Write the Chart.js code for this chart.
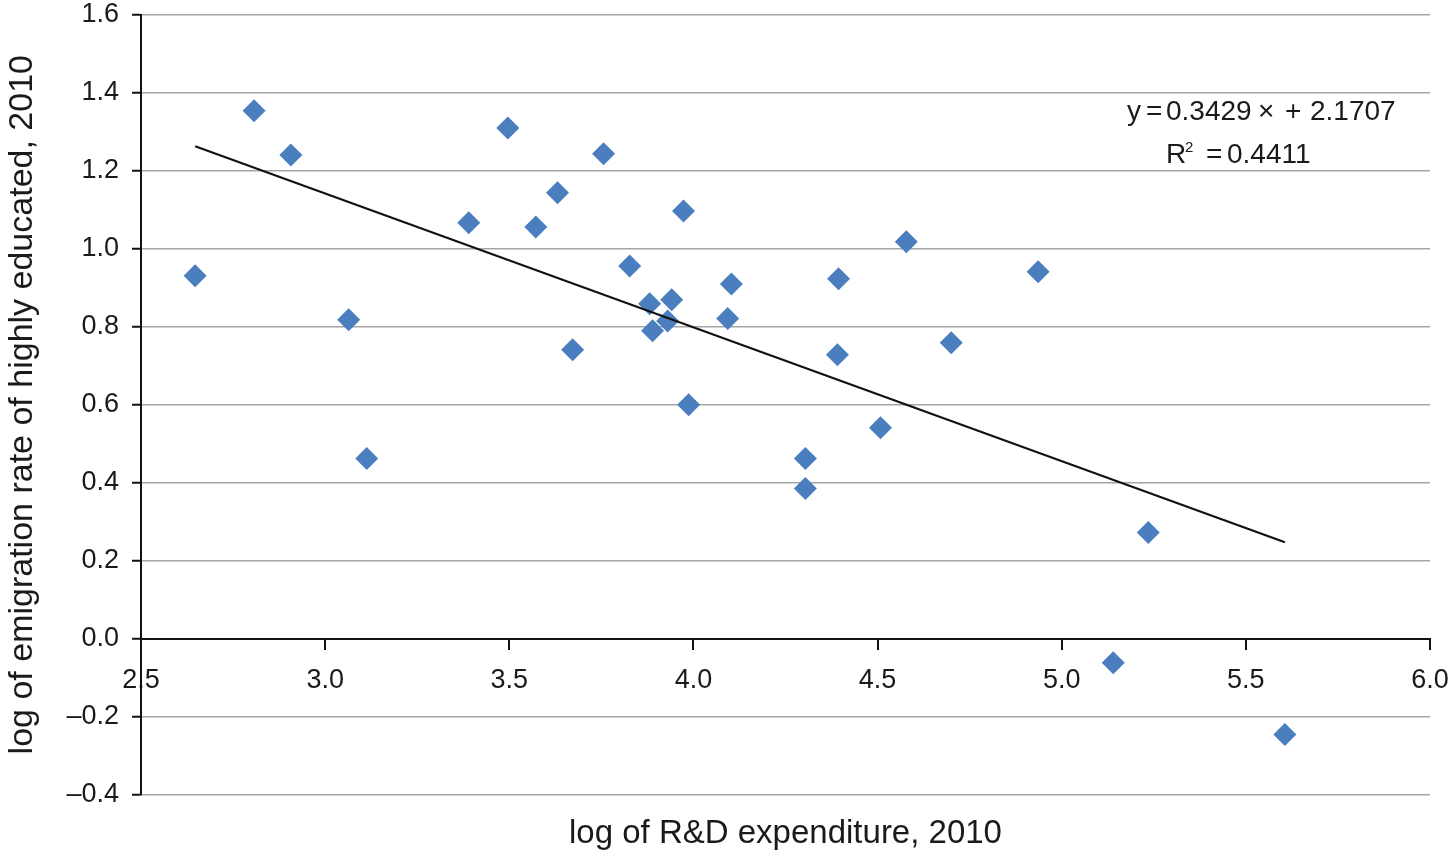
<!DOCTYPE html>
<html>
<head>
<meta charset="utf-8">
<script src="https://cdn.jsdelivr.net/npm/chart.js@4.4.1/dist/chart.umd.min.js"></script>
<style>
  html, body { margin: 0; padding: 0; background: #ffffff; }
  #wrap { width: 1454px; height: 854px; }
</style>
</head>
<body>
<div id="wrap"><canvas id="c" width="1454" height="854"></canvas></div>
<script>
// ---- data ----
const rdExpenditure = [2.647, 2.807, 2.907, 3.064, 3.113, 3.390, 3.496, 3.572, 3.631, 3.672,
                       3.756, 3.827, 3.881, 3.889, 3.930, 3.941, 3.973, 3.987, 4.093, 4.103,
                       4.304, 4.304, 4.391, 4.394, 4.508, 4.578, 4.700, 4.936, 5.140, 5.235, 5.606];
const emigrationRate = [0.931, 1.354, 1.241, 0.818, 0.462, 1.067, 1.310, 1.056, 1.144, 0.741,
                        1.244, 0.956, 0.859, 0.790, 0.815, 0.869, 1.097, 0.600, 0.821, 0.910,
                        0.462, 0.385, 0.728, 0.923, 0.541, 1.018, 0.759, 0.941, -0.062, 0.272, -0.246];
const trendX = [2.647, 5.606];
const trendY = [1.263, 0.247];

const xTickValues = [2.5, 3.0, 3.5, 4.0, 4.5, 5.0, 5.5, 6.0];
const xTickLabels = ['2.5', '3.0', '3.5', '4.0', '4.5', '5.0', '5.5', '6.0'];
const yTickValues = [-0.4, -0.2, 0.0, 0.2, 0.4, 0.6, 0.8, 1.0, 1.2, 1.4, 1.6];
const yTickLabels = ['\u20130.4', '\u20130.2', '0.0', '0.2', '0.4', '0.6', '0.8', '1.0', '1.2', '1.4', '1.6'];

const xTitle = 'log of R&D expenditure, 2010';
const yTitle = 'log of emigration rate of highly educated, 2010';
// equation pieces as printed in the figure
const eqLine1 = ['y', '=', '0.3429', '\u00d7', '+', '2.1707'];
const eqLine2 = ['R', '2', '=', '0.4411'];

// ---- chart ----
const FONT = '"Liberation Sans", Arial, Helvetica, sans-serif';
const TEXT = '#1a1a1a';

const eqPlugin = {
  id: 'trendEquation',
  afterDraw(chart) {
    const ctx = chart.ctx;
    ctx.save();
    ctx.fillStyle = TEXT;
    ctx.textAlign = 'left';
    ctx.textBaseline = 'alphabetic';
    ctx.font = '28px ' + FONT;
    const x1 = [1127, 1146, 1166, 1258, 1285, 1310];
    eqLine1.forEach((s, i) => ctx.fillText(s, x1[i], 120));
    ctx.fillText(eqLine2[0], 1166, 163);
    ctx.font = '15px ' + FONT;
    ctx.fillText(eqLine2[1], 1185, 152);
    ctx.font = '28px ' + FONT;
    ctx.fillText(eqLine2[2], 1206, 163);
    ctx.fillText(eqLine2[3], 1227, 163);
    ctx.restore();
  }
};

new Chart(document.getElementById('c'), {
  type: 'scatter',
  data: {
    datasets: [
      {
        label: 'trend',
        data: trendX.map((x, i) => ({ x: x, y: trendY[i] })),
        showLine: true,
        borderColor: '#111111',
        borderWidth: 2.2,
        pointRadius: 0,
        fill: false,
        order: 0
      },
      {
        label: 'countries',
        data: rdExpenditure.map((x, i) => ({ x: x, y: emigrationRate[i] })),
        pointStyle: 'rectRot',
        pointRadius: 11.5,
        pointBackgroundColor: '#4A7EBF',
        pointBorderColor: '#4A7EBF',
        pointBorderWidth: 0,
        order: 1
      }
    ]
  },
  options: {
    responsive: false,
    animation: false,
    events: [],
    layout: { padding: { left: 0, top: 15, right: 24, bottom: 0 } },
    plugins: {
      legend: { display: false },
      tooltip: { enabled: false },
      title: {
        display: true,
        position: 'bottom',
        fullSize: false,
        text: xTitle,
        color: TEXT,
        font: { family: FONT, size: 33, weight: 'normal' },
        padding: { top: 20, bottom: 0 }
      }
    },
    scales: {
      x: {
        type: 'linear',
        position: { y: 0 },
        min: 2.5,
        max: 6.0,
        afterBuildTicks(s) { s.ticks = xTickValues.map(v => ({ value: v })); },
        afterFit(s) { s.paddingLeft = 0; s.paddingRight = 0; },
        ticks: {
          callback: (v, i) => xTickLabels[i],
          color: TEXT,
          font: { family: FONT, size: 27 },
          padding: 16,
          maxRotation: 0,
          autoSkip: false
        },
        grid: {
          drawOnChartArea: false,
          drawTicks: true,
          tickLength: 10,
          tickColor: '#111111',
          lineWidth: 2
        },
        border: { display: true, color: '#111111', width: 2 }
      },
      y: {
        type: 'linear',
        position: 'left',
        min: -0.4,
        max: 1.6,
        afterBuildTicks(s) { s.ticks = yTickValues.map(v => ({ value: v })); },
        afterFit(s) { s.width = 141; s.paddingTop = 0; s.paddingBottom = 0; },
        ticks: {
          callback: (v, i) => yTickLabels[i],
          color: TEXT,
          font: { family: FONT, size: 27 },
          padding: 13,
          autoSkip: false
        },
        grid: {
          color: '#a6a6a6',
          lineWidth: 1.5,
          drawTicks: true,
          tickLength: 9,
          tickColor: '#111111',
          tickWidth: 2
        },
        border: { display: true, color: '#111111', width: 2 },
        title: {
          display: true,
          text: yTitle,
          color: TEXT,
          font: { family: FONT, size: 34, weight: 'normal' },
          padding: { top: 2, bottom: 0 }
        }
      }
    }
  },
  plugins: [eqPlugin]
});
</script>
</body>
</html>
